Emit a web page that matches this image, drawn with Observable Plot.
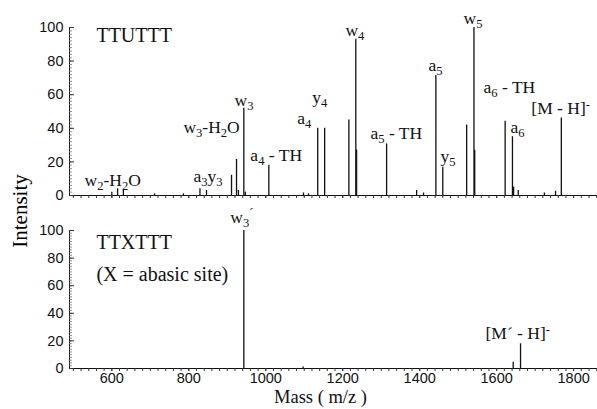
<!DOCTYPE html>
<html>
<head>
<meta charset="utf-8">
<script src="https://cdn.jsdelivr.net/npm/d3@7"></script>
<script src="https://cdn.jsdelivr.net/npm/@observablehq/plot@0.6"></script>
<style>
  html, body { margin: 0; padding: 0; background: white; }
  #chart { position: relative; width: 597px; height: 409px; overflow: hidden; background: white; }
  #chart svg { position: absolute; left: 0; overflow: visible; }
  .ylab { position: absolute; font-family: "Liberation Serif", "Times New Roman", serif; font-size: 21px; white-space: nowrap;
          left: 20px; top: 211px; transform: translate(-50%, -50%) rotate(-90deg); }
</style>
</head>
<body>
<div id="chart"></div>
<script>
// ---- data ----
// top panel: TTUTTT
const topMass = [600, 615, 630, 711, 786, 829, 846, 911, 924, 929, 943, 947, 1008, 1098, 1111, 1135, 1153, 1216, 1234, 1236, 1314, 1392, 1410, 1442, 1460, 1522, 1541, 1543, 1622, 1641, 1644, 1656, 1724, 1753, 1768];
const topInt  = [2, 4, 3, 1, 1, 4, 3, 12, 21.5, 3, 52, 2, 18, 1.5, 1, 40, 40, 45, 93, 27, 30.7, 3, 1.5, 71.5, 16.8, 42, 100, 27, 44.2, 35, 5, 3, 1.5, 2.5, 46.2];
// bottom panel: TTXTTT
const botMass = [943, 1097, 1643, 1662];
const botInt  = [100, 1, 4.6, 17.9];

// labels: _{..} subscript, ^{..} superscript
const topLabelText = ["w_{2}-H_{2}O", "a_{3}y_{3}", "w_{3}-H_{2}O", "w_{3}", "a_{4} - TH", "a_{4}", "y_{4}", "w_{4}", "a_{5} - TH", "a_{5}", "y_{5}", "w_{5}", "a_{6} - TH", "a_{6}", "[M - H]^{-}"];
const topLabelMass = [529, 812, 786, 919, 960, 1082, 1121, 1207, 1272, 1423, 1454, 1514, 1566, 1636, 1690];
const topLabelInt  = [9.2, 11.6, 40.8, 56.8, 24.1, 46.1, 58.6, 98.5, 37.2, 77.7, 23.5, 105.7, 64.6, 40.8, 52.1];
const botLabelText = ["w_{3}^{´}", "[M´ - H]^{-}"];
const botLabelMass = [908, 1571];
const botLabelInt  = [109.8, 25.7];

const topTitle = ["TTUTTT"];
const botTitle = ["TTXTTT", "(X = abasic site)"];
const botTitleInt = [90.9, 68.4];
const titleMass = 560;

const xTicks = [600, 800, 1000, 1200, 1400, 1600, 1800];
const yTicks = [0, 20, 40, 60, 80, 100];
const xDomain = [490, 1862];
const xAxisTitle = "Mass ( m/z )";
const yAxisTitle = "Intensity";

const peaksTop = topMass.map((m, i) => ({mass: m, int: topInt[i]}));
const peaksBot = botMass.map((m, i) => ({mass: m, int: botInt[i]}));
const labTop = topLabelText.map((t, i) => ({t, mass: topLabelMass[i], int: topLabelInt[i]}));
const labBot = botLabelText.map((t, i) => ({t, mass: botLabelMass[i], int: botLabelInt[i]}));

const serif = "Liberation Serif, Times New Roman, serif";
const sans = "Liberation Sans, Arial, Helvetica, sans-serif";

function commonMarks(peaks, showXLabels) {
  return [
    Plot.ruleY([0], {stroke: "#111", strokeWidth: 1}),
    Plot.ruleX([xDomain[0]], {y1: 0, y2: 100, stroke: "#111", strokeWidth: 1}),
    Plot.axisY({ticks: d3.range(0, 101, 2), tickSize: -3, tickFormat: () => "", label: null, stroke: "#777", strokeWidth: 0.8}),
    Plot.axisY({ticks: yTicks, tickSize: -5, tickPadding: 11, label: null, fontSize: 14.5, fontFamily: sans, fill: "#111", stroke: "#333"}),
    Plot.axisX({ticks: d3.range(500, 1861, 20), tickSize: 3, tickFormat: () => "", label: null, stroke: "#333"}),
    Plot.axisX({ticks: xTicks, tickSize: 3, tickPadding: 1, label: null, fontSize: 14.5, fontFamily: sans, fill: "#111", stroke: "#333",
                tickFormat: showXLabels ? (d => String(d)) : () => ""}),
    Plot.ruleX(peaks, {x: "mass", y1: 0, y2: "int", stroke: "#111", strokeWidth: 1.3})
  ];
}

const topPlot = Plot.plot({
  width: 597, height: 200,
  marginLeft: 69, marginRight: 0, marginTop: 27, marginBottom: 5,
  x: {domain: xDomain, axis: null},
  y: {domain: [0, 100], axis: null},
  style: {background: "transparent", fontFamily: sans, overflow: "visible"},
  marks: [
    ...commonMarks(peaksTop, false),
    Plot.text(labTop, {x: "mass", y: "int", text: "t", textAnchor: "start", fontFamily: serif, fontSize: 17.5, fill: "#111"}),
    Plot.text(topTitle, {x: () => titleMass, y: () => 94.9, text: d => d, textAnchor: "start", fontFamily: serif, fontSize: 20, fill: "#111"})
  ]
});

const botPlot = Plot.plot({
  width: 597, height: 209,
  marginLeft: 69, marginRight: 0, marginTop: 30, marginBottom: 41,
  x: {domain: xDomain, axis: null},
  y: {domain: [0, 100], axis: null},
  style: {background: "transparent", fontFamily: sans, overflow: "visible"},
  marks: [
    ...commonMarks(peaksBot, true),
    Plot.text(labBot, {x: "mass", y: "int", text: "t", textAnchor: "start", fontFamily: serif, fontSize: 17.5, fill: "#111"}),
    Plot.text(botTitle, {x: () => titleMass, y: (d, i) => botTitleInt[i], text: d => d, textAnchor: "start", fontFamily: serif, fontSize: 20, fill: "#111"}),
    Plot.text([xAxisTitle], {frameAnchor: "bottom", text: d => d, dx: -13, dy: 34, fontFamily: serif, fontSize: 18.5, fill: "#111"})
  ]
});

const svgns = "http://www.w3.org/2000/svg";
function scriptify(root) {
  root.querySelectorAll("text").forEach(t => {
    const s = t.textContent;
    if (!/[_^]\{/.test(s)) return;
    const parts = s.split(/([_^]\{[^}]*\})/).filter(p => p);
    while (t.firstChild) t.removeChild(t.firstChild);
    let shift = 0;
    for (const p of parts) {
      const ts = document.createElementNS(svgns, "tspan");
      let target = 0, txt = p, small = false;
      if (p[0] === "_") { target = 4.5; txt = p.slice(2, -1); small = true; }
      else if (p[0] === "^") { target = -6; txt = p.slice(2, -1); small = true; }
      ts.setAttribute("dy", target - shift);
      shift = target;
      if (small) ts.setAttribute("font-size", "0.72em");
      ts.textContent = txt;
      t.appendChild(ts);
    }
  });
}
scriptify(topPlot);
scriptify(botPlot);

const chart = document.getElementById("chart");
topPlot.style.top = "0px";
botPlot.style.top = "200px";
chart.appendChild(topPlot);
chart.appendChild(botPlot);
const yl = document.createElement("div");
yl.className = "ylab";
yl.textContent = yAxisTitle;
chart.appendChild(yl);
</script>
</body>
</html>
